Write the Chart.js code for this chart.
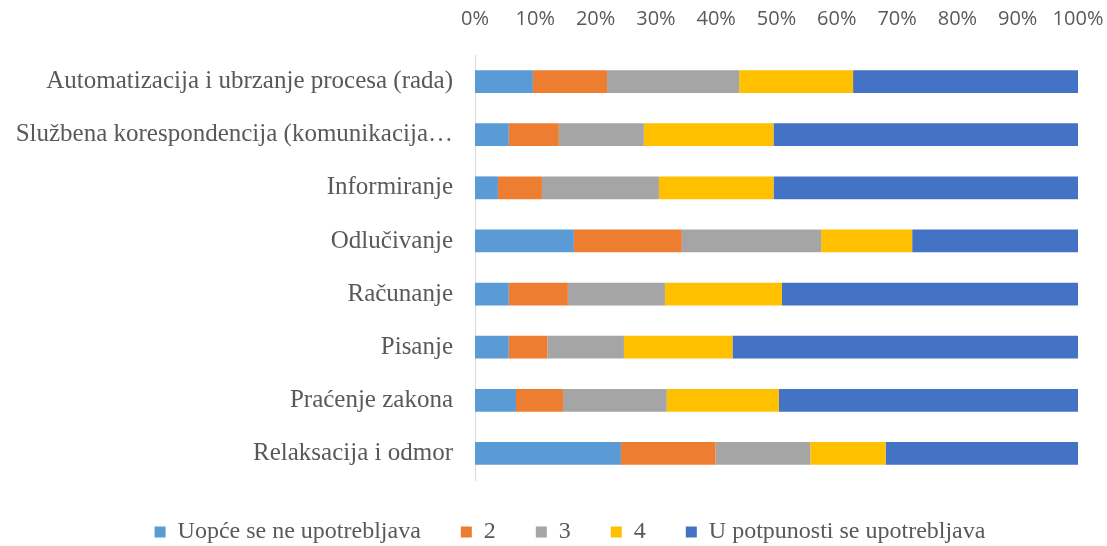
<!DOCTYPE html>
<html>
<head>
<meta charset="utf-8">
<script src="https://cdn.jsdelivr.net/npm/chart.js@4/dist/chart.umd.min.js"></script>
<style>
html,body{margin:0;padding:0;background:#fff;}
#wrap{width:1107px;height:546px;position:relative;}
</style>
</head>
<body>
<div id="wrap"><canvas id="c" width="1107" height="546"></canvas></div>
<script>
const categories = [
  "Automatizacija i ubrzanje procesa (rada)",
  "Službena korespondencija (komunikacija…",
  "Informiranje",
  "Odlučivanje",
  "Računanje",
  "Pisanje",
  "Praćenje zakona",
  "Relaksacija i odmor"
];
const seriesNames = ["Uopće se ne upotrebljava", "2", "3", "4", "U potpunosti se upotrebljava"];
const s1 = [9.6, 5.6, 3.8, 16.4, 5.6, 5.6, 6.8, 24.2];
const s2 = [12.3, 8.3, 7.3, 17.9, 9.8, 6.4, 7.8, 15.7];
const s3 = [21.9, 14.1, 19.4, 23.1, 16.1, 12.7, 17.2, 15.7];
const s4 = [18.9, 21.5, 19.0, 15.1, 19.4, 18.0, 18.6, 12.5];
const s5 = [37.3, 50.5, 50.5, 27.5, 49.1, 57.3, 49.6, 31.9];
const tickValues = [0, 10, 20, 30, 40, 50, 60, 70, 80, 90, 100];
const colors = ["#5B9BD5", "#ED7D31", "#A5A5A5", "#FFC000", "#4472C4"];

const allSeries = [s1, s2, s3, s4, s5];
const datasets = allSeries.map((d, i) => ({
  label: seriesNames[i],
  data: d,
  backgroundColor: colors[i],
  borderWidth: 0,
  barPercentage: 0.43,
  categoryPercentage: 1.0
}));

const legendFix = {
  id: 'legendFix',
  beforeLayout(chart) {
    const lg = chart.legend;
    if (lg && !lg._patched) {
      const orig = lg.fit.bind(lg);
      lg.fit = function () { orig(); this.height = 66; };
      lg._patched = true;
    }
  },
  afterLayout(chart) {
    const lg = chart.legend;
    if (lg) { lg.left += 31; lg.right += 31; }
  }
};

new Chart(document.getElementById('c'), {
  type: 'bar',
  data: { labels: categories, datasets: datasets },
  plugins: [legendFix],
  options: {
    indexAxis: 'y',
    responsive: false,
    animation: false,
    layout: { padding: { left: 0, right: 29, top: 0, bottom: 0 } },
    scales: {
      x: {
        position: 'top',
        stacked: true,
        min: 0, max: 100,
        afterBuildTicks: (axis) => { axis.ticks = tickValues.map(v => ({ value: v })); },
        afterFit: (axis) => { axis.height = 55; axis.paddingLeft = 0; axis.paddingRight = 0; },
        grid: { display: false, drawTicks: false },
        border: { display: false },
        ticks: {
          padding: 24,
          color: '#595959',
          font: { family: 'Open Sans', size: 20 },
          callback: (v) => v + '%'
        }
      },
      y: {
        stacked: true,
        afterFit: (axis) => { axis.width = 475; },
        grid: { display: false, drawTicks: false },
        border: { display: true, color: '#D9D9D9', width: 1 },
        ticks: {
          padding: 22,
          color: '#595959',
          font: { family: 'Liberation Serif', size: 25 }
        }
      }
    },
    plugins: {
      legend: {
        position: 'bottom',
        labels: {
          color: '#595959',
          font: { family: 'Liberation Serif', size: 24 },
          boxWidth: 11,
          boxHeight: 11,
          padding: 40
        }
      },
      tooltip: { enabled: false }
    }
  }
});
</script>
</body>
</html>
